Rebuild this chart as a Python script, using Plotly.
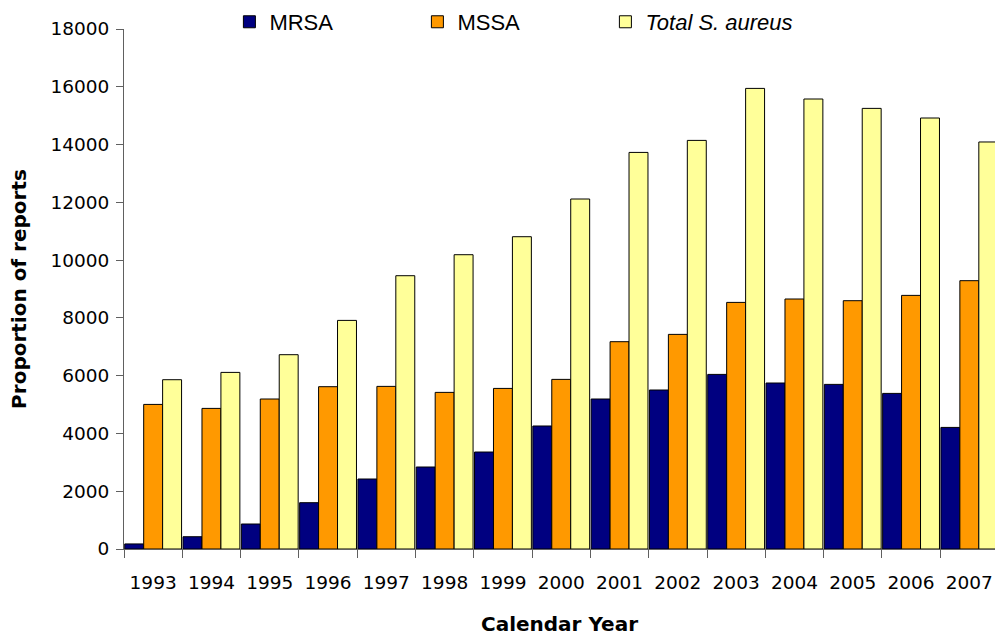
import plotly.graph_objects as go

years = ["1993", "1994", "1995", "1996", "1997", "1998", "1999", "2000",
         "2001", "2002", "2003", "2004", "2005", "2006", "2007"]
mrsa = [175, 425, 865, 1603, 2423, 2838, 3357, 4258, 5192, 5504, 6044, 5746, 5698, 5386, 4209]
mssa = [5005, 4867, 5192, 5618, 5629, 5421, 5559, 5871, 7176, 7429, 8536, 8654, 8595, 8779, 9288]
total = [5860, 6113, 6726, 7913, 9460, 10187, 10810, 12115, 13728, 14144, 15944, 15577, 15252, 14919, 14089]

series = [
    ("MRSA", mrsa, "#000080"),
    ("MSSA", mssa, "#FF9900"),
    ("<i>Total S. aureus</i>", total, "#FFFF99"),
]

fig = go.Figure()
for name, vals, col in series:
    fig.add_trace(go.Bar(
        x=years, y=vals, name=name,
        marker=dict(color=col, line=dict(color="#000000", width=1)),
    ))

fig.update_layout(
    width=995, height=636,
    margin=dict(l=124, r=0, t=29, b=87, autoexpand=False),
    paper_bgcolor="white", plot_bgcolor="white",
    barmode="group", bargap=0.025, bargroupgap=0,
    font=dict(family="DejaVu Sans", size=18.5, color="black"),
    showlegend=True,
    legend=dict(
        orientation="h", x=0.121, xanchor="left", y=1.0135, yanchor="middle",
        font=dict(family="Liberation Sans", size=22, color="black"),
        entrywidth=143, entrywidthmode="pixels",
        bgcolor="rgba(0,0,0,0)",
    ),
    xaxis=dict(
        type="category", range=[-0.5, 14.44],
        showline=True, linecolor="#606060", linewidth=1,
        ticks="outside", tickson="boundaries", ticklen=8, tickcolor="#606060",
        ticklabelstandoff=17,
        showgrid=False, zeroline=False,
        title=dict(text="<b>Calendar Year</b>", font=dict(family="DejaVu Sans", size=20), standoff=24),
    ),
    yaxis=dict(
        range=[0, 18000], tickvals=list(range(0, 18001, 2000)), tickformat="d",
        showline=True, linecolor="#606060", linewidth=1,
        ticks="outside", ticklen=7, tickcolor="#606060",
        ticklabelstandoff=3,
        showgrid=False, zeroline=False,
        title=dict(text="<b>Proportion of reports</b>", font=dict(family="DejaVu Sans", size=20), standoff=18),
    ),
)

fig.write_html(
    "out.html",
    config={"displayModeBar": False},
    post_script="document.body.style.margin='0';document.body.style.overflow='hidden';",
)
